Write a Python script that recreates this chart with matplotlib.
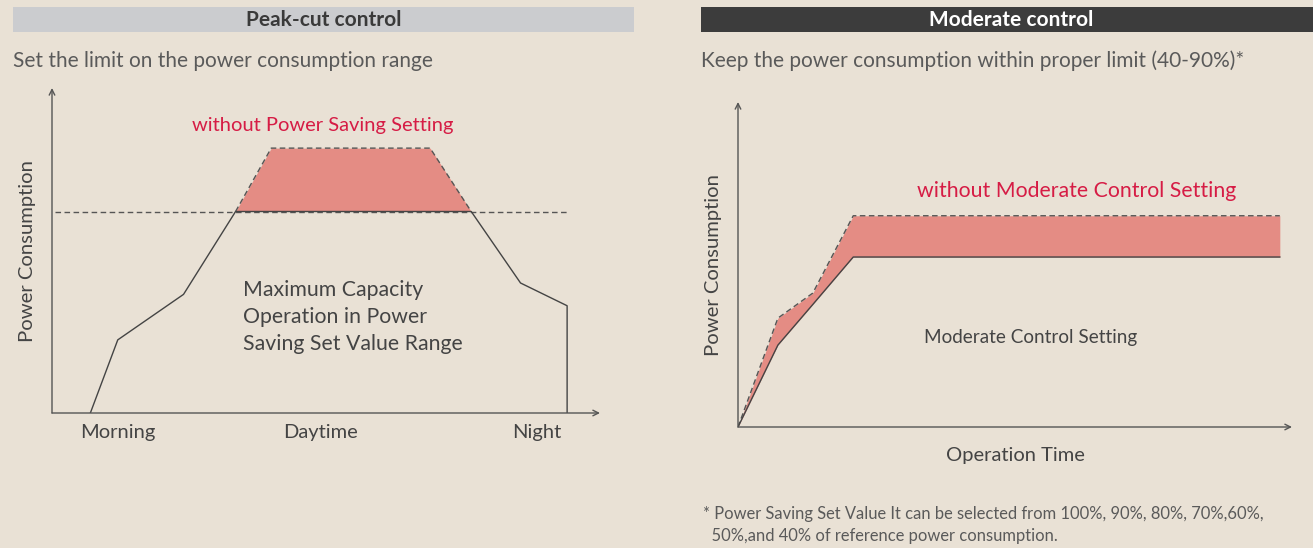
import matplotlib
matplotlib.use("Agg")
import matplotlib.pyplot as plt
from matplotlib.patches import Rectangle

W, H = 1313, 548
BG = "#e9e1d5"
RED = "#d61c45"
FILL = "#e48c84"
INK = "#444444"
AX = "#555555"

plt.rcParams['font.family'] = ['Lato', 'DejaVu Sans']

# peak-cut chart (0-100 scale on both axes)
peak_x = [7, 12, 24, 33.5, 76.5, 85.5, 94, 94]
peak_y = [0, 22.5, 36.5, 62, 62, 40, 33, 0]
nosave_x = [33.5, 40, 69, 76.5]
nosave_y = [62, 81.5, 81.5, 62]
limit = 62
day_ticks = [12, 49, 88.5]
day_labels = ["Morning", "Daytime", "Night"]

# moderate control chart
mod_x = [0, 7.2, 13.5, 20.8, 97.8]
mod_set = [0, 25.2, 37.7, 52.3, 52.3]
mod_without = [0, 33.5, 41.2, 65, 65]

fig = plt.figure(figsize=(W / 100, H / 100), dpi=100, facecolor=BG)


def px(x, y):
    return x / W, 1 - y / H


def box(x0, y0, x1, y1):
    return [x0 / W, 1 - y1 / H, (x1 - x0) / W, (y1 - y0) / H]


def txt(x, y, s, **kw):
    fig.text(*px(x, y), s, **kw)


# header bars
fig.patches.append(Rectangle(px(13, 32), 621 / W, 25 / H, transform=fig.transFigure,
                             facecolor="#cbcccf", edgecolor="none"))
fig.patches.append(Rectangle(px(701, 32), 612 / W, 25 / H, transform=fig.transFigure,
                             facecolor="#3c3c3c", edgecolor="none"))
txt(324, 20, "Peak-cut control", ha="center", va="center", fontsize=15,
    fontweight="bold", color="#3a3a3a")
txt(1011, 20, "Moderate control", ha="center", va="center", fontsize=15,
    fontweight="bold", color="white")
txt(13, 61, "Set the limit on the power consumption range", ha="left", va="center",
    fontsize=15, color="#5a5a5a")
txt(701, 61, "Keep the power consumption within proper limit (40-90%)*", ha="left",
    va="center", fontsize=15, color="#5a5a5a")


def frame(ax):
    ax.set_xlim(0, 100)
    ax.set_ylim(0, 100)
    ax.axis("off")
    ax.patch.set_alpha(0)
    ax.annotate("", xy=(0, 100), xytext=(0, 0), xycoords="data",
                arrowprops=dict(arrowstyle="->", color=AX, lw=1, shrinkA=0, shrinkB=0))
    ax.annotate("", xy=(100, 0), xytext=(0, 0), xycoords="data",
                arrowprops=dict(arrowstyle="->", color=AX, lw=1, shrinkA=0, shrinkB=0))


# left chart
ax1 = fig.add_axes(box(52, 88, 600, 413))
frame(ax1)
ax1.fill_between(nosave_x, nosave_y, limit, color=FILL, lw=0)
ax1.plot(nosave_x, nosave_y, color="#555555", lw=1, ls=(0, (4, 2.5)))
ax1.plot([0.5, 94], [limit, limit], color="#555555", lw=1, ls=(0, (4, 2.5)))
ax1.plot(peak_x, peak_y, color="#444444", lw=1)
for xt, lab in zip(day_ticks, day_labels):
    ax1.text(xt, -3.3, lab, ha="center", va="top", fontsize=14.5, color=INK)
txt(323, 126, "without Power Saving Setting", ha="center", va="center",
    fontsize=14.5, color=RED)
txt(243, 317, "Maximum Capacity\nOperation in Power\nSaving Set Value Range",
    ha="left", va="center", fontsize=15.3, color=INK, linespacing=1.45)
txt(28, 251, "Power Consumption", ha="center", va="center", rotation=90,
    fontsize=14.6, color=INK)

# right chart
ax2 = fig.add_axes(box(738, 102, 1292, 427))
frame(ax2)
ax2.fill_between(mod_x, mod_set, mod_without, color=FILL, lw=0)
ax2.plot(mod_x, mod_without, color="#555555", lw=1, ls=(0, (4, 2.5)))
ax2.plot(mod_x, mod_set, color="#444444", lw=1)
txt(1077, 191, "without Moderate Control Setting", ha="center", va="center",
    fontsize=15.3, color=RED)
txt(1031, 337, "Moderate Control Setting", ha="center", va="center",
    fontsize=13.6, color=INK)
txt(1015, 456, "Operation Time", ha="center", va="center", fontsize=14.5, color=INK)
txt(713, 265, "Power Consumption", ha="center", va="center", rotation=90,
    fontsize=14.6, color=INK)
txt(703, 525, "* Power Saving Set Value It can be selected from 100%, 90%, 80%, 70%,60%,\n"
    "  50%,and 40% of reference power consumption.", ha="left", va="center",
    fontsize=11.9, color="#5a5a5a", linespacing=1.45)

fig.savefig("out.png", dpi=100, facecolor=BG)
